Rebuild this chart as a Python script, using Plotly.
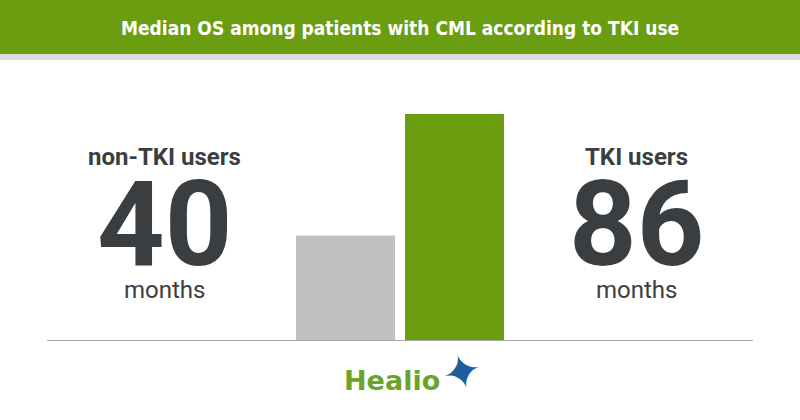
import plotly.graph_objects as go

# ---- data ----
categories = ["non-TKI users", "TKI users"]
median_os = [40, 86]
bar_colors = ["#c0c0c0", "#6a9e10"]
unit_label = "months"
title_text = "Median OS among patients with CML according to TKI use"

W, H = 800, 420
GREEN = "#6a9e10"
DARK = "#3a3e40"

def py(px):  # pixel-from-top -> paper y
    return (H - px) / H

fig = go.Figure()
fig.add_trace(go.Bar(
    x=list(range(len(categories))), y=median_os,
    marker=dict(color=bar_colors, line=dict(width=0)),
    width=0.908, hoverinfo="skip", showlegend=False,
))

fig.update_layout(
    width=W, height=H,
    margin=dict(l=0, r=0, t=0, b=0),
    paper_bgcolor="white", plot_bgcolor="white",
    xaxis=dict(visible=False, range=[-3.17, 4.17], fixedrange=True),
    yaxis=dict(visible=False, range=[0, max(median_os)], domain=[py(341), py(114)], fixedrange=True),
    shapes=[
        dict(type="rect", xref="paper", yref="paper", x0=0, x1=1, y0=py(54), y1=1,
             fillcolor=GREEN, line=dict(width=0), layer="below"),
        dict(type="rect", xref="paper", yref="paper", x0=0, x1=1, y0=py(60), y1=py(54),
             fillcolor="#dcdcdf", line=dict(width=0), layer="below"),
        dict(type="line", xref="paper", yref="y", x0=47 / W, x1=753 / W, y0=0, y1=0,
             line=dict(color="#a8a8a8", width=2), layer="above"),
    ],
)

ann = []
ann.append(dict(text=f"<b>{title_text}</b>", x=0.5, y=py(28), xref="paper", yref="paper",
                showarrow=False, font=dict(family="DejaVu Sans Condensed", size=19, color="white"),
                xanchor="center", yanchor="middle"))

centers = [164 / W, 636 / W]
for cx, cat, val in zip(centers, categories, median_os):
    ann.append(dict(text=f"<b>{cat}</b>", x=cx, y=py(157), xref="paper", yref="paper",
                    showarrow=False, font=dict(family="Roboto", size=24, color=DARK),
                    xanchor="center", yanchor="middle", height=24, valign="middle"))
    ann.append(dict(text=f"<b>{val}</b>", x=cx, y=py(225), xref="paper", yref="paper",
                    showarrow=False, font=dict(family="Roboto", size=118, color=DARK),
                    xanchor="center", yanchor="middle", height=96, valign="middle"))
    ann.append(dict(text=unit_label, x=cx, y=py(290), xref="paper", yref="paper",
                    showarrow=False, font=dict(family="Roboto", size=24, color=DARK),
                    xanchor="center", yanchor="middle", height=24, valign="middle"))

# logo
ann.append(dict(text="<b>Healio</b>", x=392 / W, y=py(380), xref="paper", yref="paper",
                showarrow=False, font=dict(family="DejaVu Sans", size=27, color="#6aa52a"),
                xanchor="center", yanchor="middle"))
ann.append(dict(text="✦", x=462 / W, y=py(372), xref="paper", yref="paper",
                showarrow=False, font=dict(family="DejaVu Sans", size=48, color="#1f5c9e"),
                xanchor="center", yanchor="middle", textangle=-15))

fig.update_layout(annotations=ann)
fig.write_html("out.html")
